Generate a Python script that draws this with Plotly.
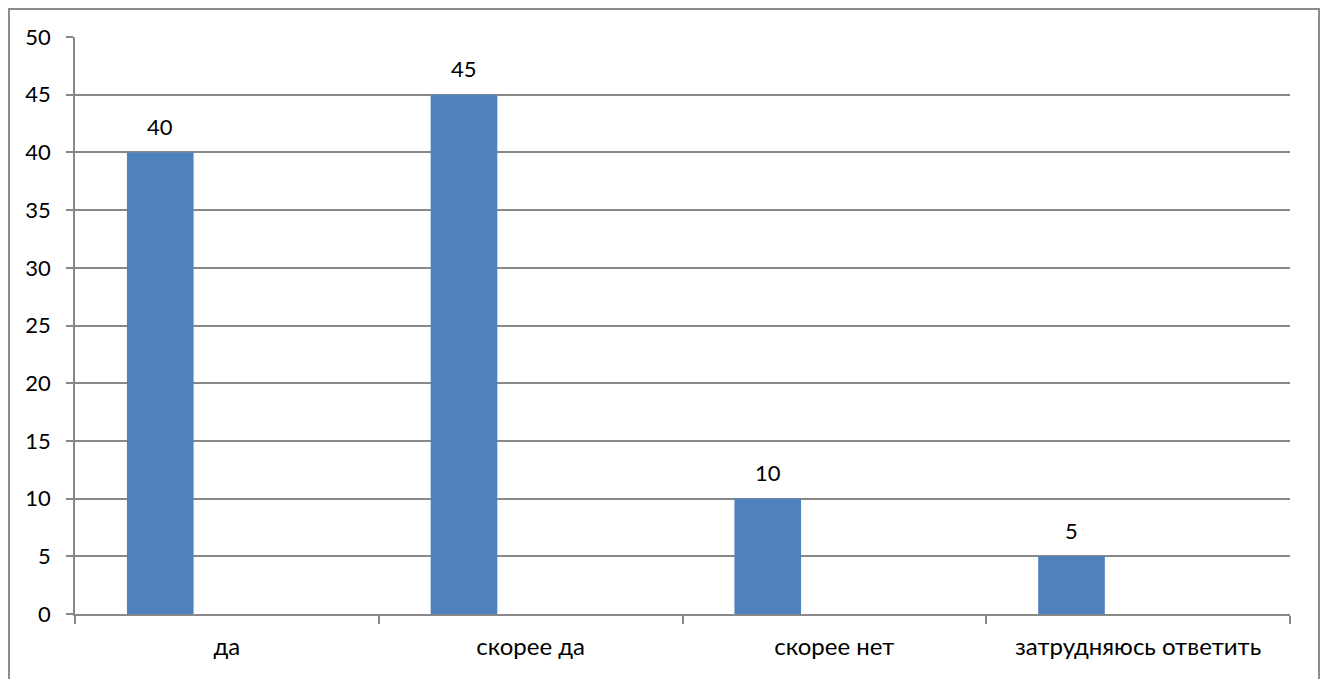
import plotly.graph_objects as go

categories = ["да", "скорее да", "скорее нет", "затрудняюсь ответить"]
values = [40, 45, 10, 5]
empty_series = [None, None, None, None]
y_ticks = [0, 5, 10, 15, 20, 25, 30, 35, 40, 45, 50]

# page body has an 8px margin, so the figure starts at (8, 8) on screen
W, H = 1320, 671
L, R, T, B = 67, 38, 29, 65
FONT = "Lato"
GRID = "#888888"
BARGAP = 0.342
NSER = 3

pw = W - L - R
ph = H - T - B
bar_px = pw / len(categories) * (1 - BARGAP) / NSER

fig = go.Figure()
fig.add_trace(go.Bar(x=categories, y=values, marker=dict(color="#4F81BD", line=dict(width=0))))
fig.add_trace(go.Bar(x=categories, y=empty_series, marker=dict(color="#C0504D")))
fig.add_trace(go.Bar(x=categories, y=empty_series, marker=dict(color="#9BBB59")))

for c, v in zip(categories, values):
    fig.add_annotation(x=c, y=v, text=str(v), showarrow=False, xref="x", yref="y",
                       xshift=-bar_px, yshift=26, font=dict(size=22, color="black", family=FONT))

fig.add_shape(type="rect", xref="paper", yref="paper",
              x0=(1 - L) / pw, x1=(1311 - L) / pw, y0=-0.3, y1=(H - B - 1) / ph,
              line=dict(color="#8C8C8C", width=2), fillcolor="rgba(0,0,0,0)", layer="below")

fig.update_layout(
    width=W, height=H, margin=dict(l=L, r=R, t=T, b=B, pad=0),
    plot_bgcolor="white", paper_bgcolor="white",
    barmode="group", bargap=BARGAP, bargroupgap=0, showlegend=False,
    font=dict(family=FONT, size=22, color="black"),
)
fig.update_xaxes(type="category", range=[-0.5, 3.5], showgrid=False, tickson="boundaries",
                 ticks="outside", ticklen=8, tickcolor=GRID, tickwidth=1.5,
                 showline=True, linecolor=GRID, linewidth=1.5,
                 tickfont=dict(size=24, family=FONT), ticklabelstandoff=10, fixedrange=True)
fig.update_yaxes(range=[0, 50], tickvals=y_ticks, showgrid=True, gridcolor=GRID, gridwidth=1.5,
                 ticks="outside", ticklen=7, tickcolor=GRID, tickwidth=1.5,
                 showline=True, linecolor=GRID, linewidth=1.5, zeroline=False,
                 tickfont=dict(size=22, family=FONT), ticklabelstandoff=11)

fig.write_html("out.html")
